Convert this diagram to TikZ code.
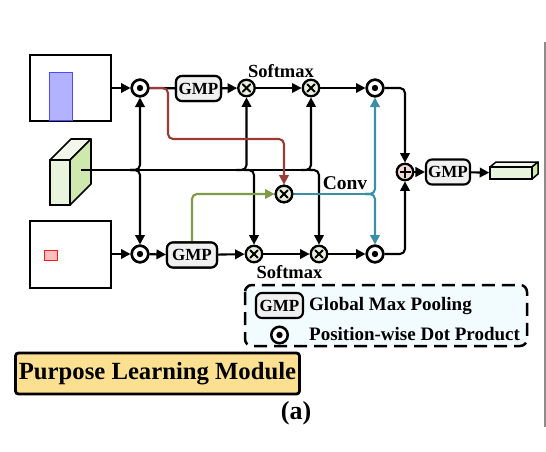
\documentclass[tikz,border=0pt]{standalone}
\usepackage{fontspec}
\setmainfont{Liberation Serif}
\usetikzlibrary{arrows.meta}
\definecolor{redl}{HTML}{9A3B36}
\definecolor{greenl}{HTML}{7F9B45}
\definecolor{teall}{HTML}{3A8FA6}
\definecolor{opfill}{HTML}{E6F0DC}
\definecolor{plusfill}{HTML}{F3D9D6}
\definecolor{gmpfill}{HTML}{F0F0F0}
\definecolor{cubefront}{HTML}{E8F4DC}
\definecolor{cubetop}{HTML}{F1F8EA}
\definecolor{cubeside}{HTML}{CFE8AE}
\definecolor{titlefill}{HTML}{FCE091}
\tikzset{
  conn/.style={line width=2.1pt,-{Triangle[length=9.5pt,width=9.5pt]},rounded corners=5pt},
  plain/.style={line width=2.1pt,rounded corners=5pt},
  lab/.style={font=\bfseries\fontsize{18.5}{18.5}\selectfont,inner sep=0pt},
  gmpbox/.style={draw,line width=2.1pt,fill=gmpfill,rounded corners=6pt,font=\bfseries\fontsize{17}{17}\selectfont,inner sep=0pt,minimum height=25pt},
  dotop/.style={circle,draw,line width=2.5pt,fill=white,minimum size=16.5pt,inner sep=0pt,path picture={\fill[black] (path picture bounding box.center) circle (3.2pt);}},
  crossop/.style={circle,draw,line width=2.3pt,fill=opfill,minimum size=16.5pt,inner sep=0pt,path picture={\draw[line width=1.9pt,line cap=round] ([shift={(-3.6pt,-3.6pt)}]path picture bounding box.center) -- ([shift={(3.6pt,3.6pt)}]path picture bounding box.center) ([shift={(-3.6pt,3.6pt)}]path picture bounding box.center) -- ([shift={(3.6pt,-3.6pt)}]path picture bounding box.center);}},
  plusop/.style={circle,draw,line width=2.3pt,fill=plusfill,minimum size=16.5pt,inner sep=0pt,path picture={\draw[line width=1.9pt] ([xshift=-5.5pt]path picture bounding box.center) -- ([xshift=5.5pt]path picture bounding box.center) ([yshift=-5.5pt]path picture bounding box.center) -- ([yshift=5.5pt]path picture bounding box.center);}},
  imgbox/.style={draw,line width=1.5pt,fill=white,minimum width=81pt,inner sep=0pt},
}
\begin{document}
\begin{tikzpicture}[x=1pt,y=-1pt]
\useasboundingbox (0,0) rectangle (546,452);
\fill[black!45] (543.5,42) rectangle (546,427);
% images
\node[imgbox,minimum height=66pt] (img1) at (70.5,88) {};
\draw[blue!70,fill=blue!30,line width=0.9pt] (49.5,72) rectangle (72.5,120);
\node[imgbox,minimum height=67pt] (img2) at (70.5,254.5) {};
\draw[red!90,fill=red!25,line width=0.9pt] (44.5,250) rectangle (57,260);
% feature cuboid
\draw[line width=1.6pt,line join=round,fill=cubetop] (50,160) -- (71,139) -- (91,139) -- (70,160) -- cycle;
\draw[line width=1.6pt,line join=round,fill=cubeside] (70,160) -- (91,139) -- (91,184) -- (70,205) -- cycle;
\node[draw,line width=1.6pt,fill=cubefront,minimum width=20pt,minimum height=45pt,inner sep=0pt] (feat) at (60,182.5) {};
\coordinate (src) at (81,170);
\coordinate (b1) at (130,170);
\coordinate (b2) at (236,170);
\coordinate (b3) at (244,170);
\coordinate (b4) at (301,170);
\coordinate (b5) at (309,170);
% ops
\node[dotop] (d1) at (140,88) {};
\node[gmpbox,minimum width=45pt] (g1) at (198.5,88.5) {GMP};
\node[crossop] (x1) at (246.5,88) {};
\node[crossop] (x2) at (311,88) {};
\node[dotop] (d2) at (375,88) {};
\node[dotop] (d3) at (140,254) {};
\node[gmpbox,minimum width=50pt] (g2) at (192,255) {GMP};
\node[crossop] (x3) at (254,254) {};
\node[crossop] (x4) at (319,254) {};
\node[dotop] (d4) at (375,254) {};
\node[crossop] (xm) at (284,194) {};
\node[plusop] (pl) at (405,172) {};
\node[gmpbox,minimum width=44pt] (g3) at (448,172) {GMP};
% output cuboid
\draw[line width=1.5pt,line join=round,fill=cubetop] (490,167) -- (496,162) -- (538,162) -- (532,167) -- cycle;
\draw[line width=1.5pt,line join=round,fill=cubeside] (532,167) -- (538,162) -- (538,174) -- (532,179) -- cycle;
\node[draw,line width=1.5pt,fill=cubefront,minimum width=42pt,minimum height=12pt,inner sep=0pt] (out) at (511,173) {};
% labels
\node[lab] (s1) at (281,71) {Softmax};
\node[lab] (s2) at (289.5,272) {Softmax};
\node[lab,font=\bfseries\fontsize{19.5}{19.5}\selectfont] (cv) at (345,183) {Conv};
% connectors: top row
\draw[conn] (img1.east |- d1) -- (d1);
\draw[plain] (d1) -- (g1);
\draw[conn] (g1) -- (x1);
\draw[conn] (x1) -- (x2);
\draw[conn] (x2) -- (d2);
\draw[conn] (d2) -| (pl);
% bottom row
\draw[conn] (img2.east |- d3) -- (d3);
\draw[conn] (d3) -- (g2);
\draw[conn] (g2) -- (x3);
\draw[conn] (x3) -- (x4);
\draw[conn] (x4) -- (d4);
\draw[conn] (d4) -| (pl);
\draw[conn] (pl) -- (g3);
\draw[conn] (g3) -- (out);
% trunk
\draw[plain] (src) -- (b5);
\draw[conn] (b1) -| (d1);
\draw[conn] (b1) -| (d3);
\draw[conn] (b2) -| (x1);
\draw[conn] (b3) -| (x3);
\draw[conn] (b4) -| (x2);
\draw[conn] (b5) -| (x4);
% coloured
\draw[conn,draw=redl,-{Triangle[length=9.5pt,width=9.5pt,fill=redl]}] (d1) -- (168,88) -- (168,139) -- (284,139) -- (xm);
\draw[conn,draw=greenl,-{Triangle[length=9.5pt,width=9.5pt,fill=greenl]}] (g2) -- (192,194) -- (xm);
\coordinate (tb) at (365,194);
\draw[plain,draw=teall] (xm) -- (tb);
\draw[conn,draw=teall,-{Triangle[length=9.5pt,width=9.5pt,fill=teall]}] (tb) -| (d2);
\draw[conn,draw=teall,-{Triangle[length=9.5pt,width=9.5pt,fill=teall]}] (tb) -| (d4);
% redraw ops over lines
\node[dotop] at (d1) {};
\node[dotop] at (d2) {};
\node[dotop] at (d3) {};
\node[dotop] at (d4) {};
\node[crossop] at (xm) {};
\node[gmpbox,minimum width=50pt] at (g2) {GMP};
\node[gmpbox,minimum width=45pt] at (g1) {GMP};
% legend
\draw[line width=2.5pt,dash pattern=on 13pt off 7pt,fill=cyan!5,rounded corners=7pt] (245,285) rectangle (527,346);
\node[gmpbox,minimum width=47pt] (lg) at (279.5,305.5) {GMP};
\node[dotop] (ld) at (279.5,335) {};
\node[lab,anchor=west,font=\bfseries\fontsize{19}{19}\selectfont] (t1) at (309,306) {Global Max Pooling};
\node[lab,anchor=west,font=\bfseries\fontsize{19}{19}\selectfont] (t2) at (309,334) {Position-wise Dot Product};
% title
\node[draw,line width=2.8pt,fill=titlefill,rounded corners=3pt,minimum width=284pt,minimum height=41pt,inner sep=0pt,font=\bfseries\fontsize{24.7}{24.7}\selectfont] (pm) at (157.5,373.5) {Purpose Learning Module};
\node[font=\bfseries\fontsize{26}{26}\selectfont,inner sep=0pt] (cap) at (296,413) {(a)};
\end{tikzpicture}
\end{document}
